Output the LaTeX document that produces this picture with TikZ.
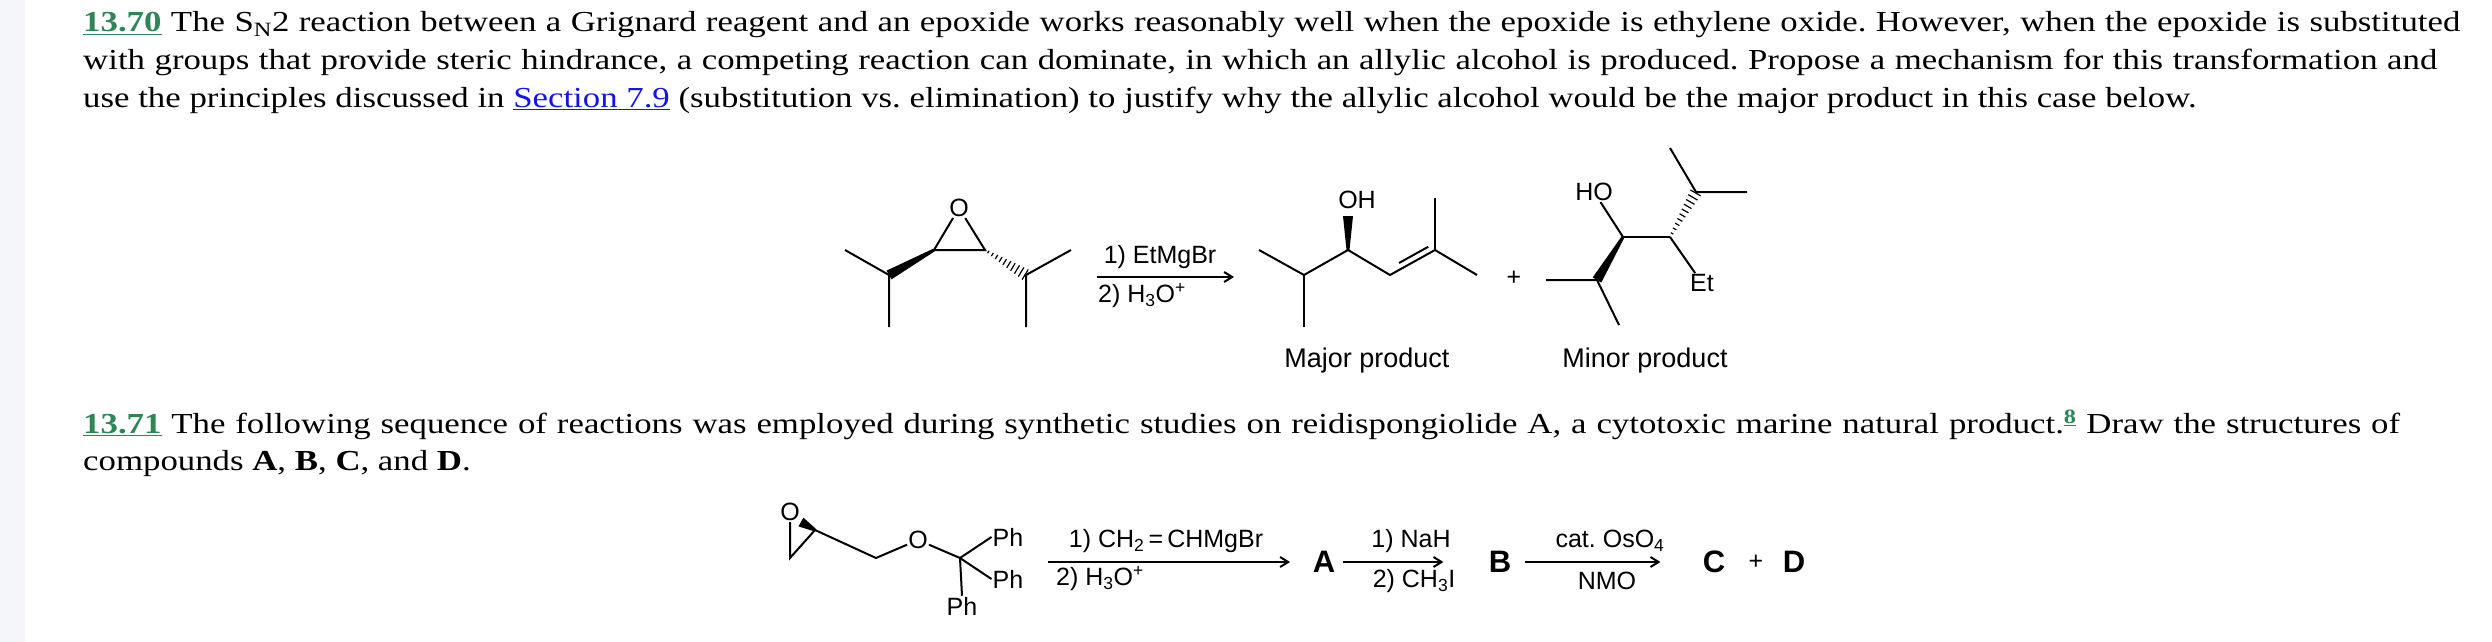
\documentclass[tikz,border=0pt]{standalone}
\usepackage{fontspec}
\setmainfont[FakeStretch=1.2]{Liberation Serif}
\newfontfamily\chemfont{Liberation Sans}
\usetikzlibrary{calc,arrows.meta}
\definecolor{linkgreen}{RGB}{46,134,87}
\definecolor{linkblue}{RGB}{20,20,230}
\definecolor{stripgray}{RGB}{245,246,250}
\newcommand{\lnk}[2]{\textcolor{#1}{\underline{#2}}}
\newcommand{\wedgebond}[2]{\fill ($(#1)!1.5pt!90:(#2)$) -- ($(#1)!1.5pt!-90:(#2)$) -- ($(#2)!5pt!90:(#1)$) -- ($(#2)!5pt!-90:(#1)$) -- cycle;}
\newcommand{\hashbond}[2]{\foreach \t in {0.08,0.18,...,1} {\draw[line width=1.2pt] ($(#1)!\t!(#2)!\t*5pt+1pt!90:(#2)$) -- ($(#1)!\t!(#2)!\t*5pt+1pt!-90:(#2)$);}}
\frenchspacing
\begin{document}
\begin{tikzpicture}[x=1pt,y=-1pt,
    para/.style={anchor=base west, inner sep=0pt, font=\fontsize{29}{32}\selectfont},
    atom/.style={inner sep=1pt, font=\chemfont\fontsize{25}{27}\selectfont},
    reag/.style={inner sep=0pt, font=\chemfont\fontsize{25}{27}\selectfont},
    lbl/.style={inner sep=0pt, font=\chemfont\fontsize{27}{29}\selectfont},
    cmpd/.style={inner sep=0pt, font=\chemfont\bfseries\fontsize{31}{33}\selectfont},
    bond/.style={line width=2pt},
    rxn/.style={line width=2pt, -{Straight Barb[length=8pt,width=10pt]}}
]
    \useasboundingbox (0,0) rectangle (2492,642);
    \fill[stripgray] (0,0) rectangle (25,642);

    % Question 13.70
    \node[para] (l1) at (83,32) {\makebox[2377pt][s]{\lnk{linkgreen}{\textbf{13.70}} The S\textsubscript{N}2 reaction between a Grignard reagent and an epoxide works reasonably well when the epoxide is ethylene oxide. However, when the epoxide is substituted}};
    \node[para] (l2) at (83,70) {\makebox[2354pt][s]{with groups that provide steric hindrance, a competing reaction can dominate, in which an allylic alcohol is produced. Propose a mechanism for this transformation and}};
    \node[para] (l3) at (83,107) {use the principles discussed in \lnk{linkblue}{Section 7.9} (substitution vs. elimination) to justify why the allylic alcohol would be the major product in this case below.};

    % Epoxide
    \node[atom] (o1) at (959,208) {O};
    \coordinate (c1) at (934,250);
    \coordinate (c2) at (985,250);
    \coordinate (c3) at (889,275);
    \coordinate (c4) at (1026,275);
    \draw[bond] (o1) -- (c1) -- (c2) -- (o1);
    \wedgebond{c1}{c3}
    \hashbond{c2}{c4}
    \draw[bond] (845,250) -- (c3) -- (889,327);
    \draw[bond] (1071,250) -- (c4) -- (1026,327);

    % Arrow
    \coordinate (a1s) at (1097,277);
    \coordinate (a1e) at (1234,277);
    \draw[rxn] (a1s) -- (a1e);
    \node[reag] (r1) at (1160,257) {1) EtMgBr};
    \node[reag] (r2) at (1142,296) {2) H\textsubscript{3}O\textsuperscript{+}};

    % Major product
    \coordinate (m1) at (1259,250);
    \coordinate (m2) at (1304,275);
    \coordinate (m3) at (1348,250);
    \coordinate (m4) at (1390,275);
    \coordinate (m5) at (1435,250);
    \node[atom] (oh) at (1357,200) {OH};
    \draw[bond] (m1) -- (m2) -- (m3) -- (m4) -- (m5) -- (1477,275);
    \draw[bond] (m2) -- (1304,327);
    \draw[bond] (m5) -- (1435,198);
    \draw[bond] ($(m4)!0.2!(m5)+(0,-7)$) -- ($(m4)!0.85!(m5)+(0,-7)$);
    \coordinate (ohb) at (1348,216);
    \wedgebond{m3}{ohb}
    \node[atom] (plus1) at (1514,278) {+};

    % Minor product
    \coordinate (n1) at (1546,280);
    \coordinate (n2) at (1597,280);
    \coordinate (n3) at (1623,237);
    \coordinate (n4) at (1670,237);
    \coordinate (n5) at (1696,192);
    \draw[bond] (n1) -- (n2) -- (1619,325);
    \wedgebond{n3}{n2}
    \draw[bond] (n3) -- (n4);
    \node[atom] (ho) at (1594,192) {HO};
    \draw[bond] (n3) -- (ho);
    \node[atom] (et) at (1702,283) {Et};
    \draw[bond] (n4) -- (et);
    \hashbond{n4}{n5}
    \draw[bond] (1670,148) -- (n5) -- (1747,192);

    \node[lbl] (major) at (1367,361) {Major product};
    \node[lbl] (minor) at (1645,361) {Minor product};

    % Question 13.71
    \node[para] (l4) at (83,433) {\makebox[2317pt][s]{\lnk{linkgreen}{\textbf{13.71}} The following sequence of reactions was employed during synthetic studies on reidispongiolide A, a cytotoxic marine natural product.\textsuperscript{\lnk{linkgreen}{\textbf{8}}} Draw the structures of}};
    \node[para] (l5) at (83,470) {compounds \textbf{A}, \textbf{B}, \textbf{C}, and \textbf{D}.};

    % Starting material
    \node[atom] (o2) at (790,512) {O};
    \coordinate (e1) at (815,530);
    \coordinate (e2) at (790,558);
    \coordinate (e3) at (876,558);
    \node[atom] (o3) at (918,540) {O};
    \coordinate (q) at (960,558);
    \wedgebond{e1}{o2.south east}
    \draw[bond] (o2) -- (e2) -- (e1) -- (e3) -- (o3) -- (q);
    \node[atom] (ph1) at (1008,537) {Ph};
    \node[atom] (ph2) at (1008,579) {Ph};
    \node[atom] (ph3) at (962,606) {Ph};
    \draw[bond] (q) -- (ph1.west);
    \draw[bond] (q) -- (ph2.west);
    \draw[bond] (q) -- (ph3.north);

    % Reaction sequence
    \draw[rxn] (1048,562) -- (1290,562);
    \node[reag] (r3) at (1166,541) {1) CH\textsubscript{2}\,{=}\,CHMgBr};
    \node[reag] (r4) at (1100,579) {2) H\textsubscript{3}O\textsuperscript{+}};
    \node[cmpd] (ca) at (1324,562) {A};
    \draw[rxn] (ca.east) ++(8,0) coordinate (a2s) -- ++(100,0) coordinate (a2e);
    \node[reag] (r5) at (1411,541) {1) NaH};
    \node[reag] (r6) at (1414,581) {2) CH\textsubscript{3}I};
    \node[cmpd] (cb) at (1500,562) {B};
    \draw[rxn] (cb.east) ++(14,0) coordinate (a3s) -- ++(135,0) coordinate (a3e);
    \node[reag] (r7) at (1610,541) {cat. OsO\textsubscript{4}};
    \node[reag] (r8) at (1607,581) {NMO};
    \node[cmpd] (cc) at (1714,562) {C};
    \node[atom] (plus2) at (1756,562) {+};
    \node[cmpd] (cd) at (1794,562) {D};
\end{tikzpicture}
\end{document}
